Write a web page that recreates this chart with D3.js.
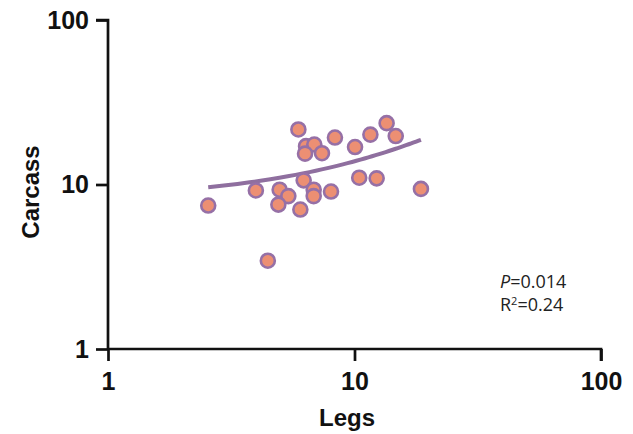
<!DOCTYPE html>
<html>
<head>
<meta charset="utf-8">
<script src="https://cdn.jsdelivr.net/npm/d3@7"></script>
<style>
  body { margin: 0; background: #fff; }
</style>
</head>
<body>
<div id="chart"></div>
<script>
// Legs vs Carcass
const legs    = [2.55, 5.92, 6.36, 6.87, 6.30, 7.38, 8.33, 10.05, 11.6, 13.5, 14.7,
                 3.98, 4.97, 5.39, 4.91, 6.22, 6.83, 6.83, 6.03, 8.03, 10.45, 12.3, 18.6, 4.45];
const carcass = [7.45, 21.6, 17.1, 17.5, 15.4, 15.5, 19.3, 16.9, 20.1, 23.6, 19.7,
                 9.2, 9.3, 8.5, 7.55, 10.6, 9.3, 8.5, 7.04, 9.06, 11.0, 10.9, 9.4, 3.44];
const tickValues = [1, 10, 100];
// linear fit Carcass = a + b * Legs
const fitIntercept = 8.19;
const fitSlope = 0.565;

const width = 633, height = 434;
const x0 = 108, x1 = 601, yTop = 20, yBot = 349;
const boldFont = "Arial, 'Liberation Sans', sans-serif";

const svg = d3.select("#chart").append("svg")
  .attr("width", width)
  .attr("height", height);

const xScale = d3.scaleLog().domain([1, 100]).range([x0, x1]);
const yScale = d3.scaleLog().domain([1, 100]).range([yBot, yTop]);

// axes
const xAxis = svg.append("g")
  .attr("transform", `translate(0, ${yBot})`)
  .call(d3.axisBottom(xScale).tickValues(tickValues).tickFormat(d3.format("d")).tickSize(12).tickPadding(11));
const yAxis = svg.append("g")
  .attr("transform", `translate(${x0}, 0)`)
  .call(d3.axisLeft(yScale).tickValues(tickValues).tickFormat(d3.format("d")).tickSize(12).tickPadding(7));

[xAxis, yAxis].forEach(ax => {
  ax.attr("font-size", null).attr("font-family", null);
  ax.select(".domain").attr("stroke", "#111").attr("stroke-width", 2.7);
  ax.selectAll(".tick line").attr("stroke", "#111").attr("stroke-width", 2.7);
  ax.selectAll(".tick text")
    .attr("fill", "#111")
    .attr("font-family", boldFont)
    .attr("font-weight", "bold")
    .attr("font-size", 25);
});
xAxis.select(".domain").attr("d", `M${x0},0H${x1}V12`);
yAxis.select(".domain").attr("d", `M-12,${yTop}H0V${yBot}`);

svg.append("text")
  .attr("x", 347)
  .attr("y", 426)
  .attr("text-anchor", "middle")
  .attr("font-family", boldFont).attr("font-weight", "bold").attr("font-size", 24)
  .attr("fill", "#111")
  .text("Legs");

svg.append("text")
  .attr("transform", "rotate(-90)")
  .attr("x", -192)
  .attr("y", 39)
  .attr("text-anchor", "middle")
  .attr("font-family", boldFont).attr("font-weight", "bold").attr("font-size", 24)
  .attr("fill", "#111")
  .text("Carcass");

// fit curve
const xMin = d3.min(legs), xMax = d3.max(legs);
const fitPts = d3.range(0, 41).map(i => {
  const lx = xMin + (xMax - xMin) * i / 40;
  return [lx, fitIntercept + fitSlope * lx];
});
svg.append("path")
  .datum(fitPts)
  .attr("fill", "none")
  .attr("stroke", "#8f6f9f")
  .attr("stroke-width", 4)
  .attr("d", d3.line().x(d => xScale(d[0])).y(d => yScale(d[1])));

// points
svg.append("g").selectAll("circle")
  .data(legs.map((l, i) => ({ legs: l, carcass: carcass[i] })))
  .join("circle")
  .attr("cx", d => xScale(d.legs))
  .attr("cy", d => yScale(d.carcass))
  .attr("r", 7)
  .attr("fill", "#ec8f73")
  .attr("stroke", "#9670a6")
  .attr("stroke-width", 2.6);

// stats annotation
const statsFont = "'Open Sans', sans-serif";
const stats = svg.append("text").attr("x", 500).attr("y", 288)
  .attr("font-family", statsFont).attr("font-size", 18).attr("fill", "#222");
stats.append("tspan").attr("font-style", "italic").text("P");
stats.append("tspan").text("=0.014");
const r2 = svg.append("text").attr("x", 500).attr("y", 311)
  .attr("font-family", statsFont).attr("font-size", 18).attr("fill", "#222");
r2.append("tspan").text("R");
r2.append("tspan").attr("font-size", 11).attr("dy", -6).text("2");
r2.append("tspan").attr("dy", 6).text("=0.24");
</script>
</body>
</html>
